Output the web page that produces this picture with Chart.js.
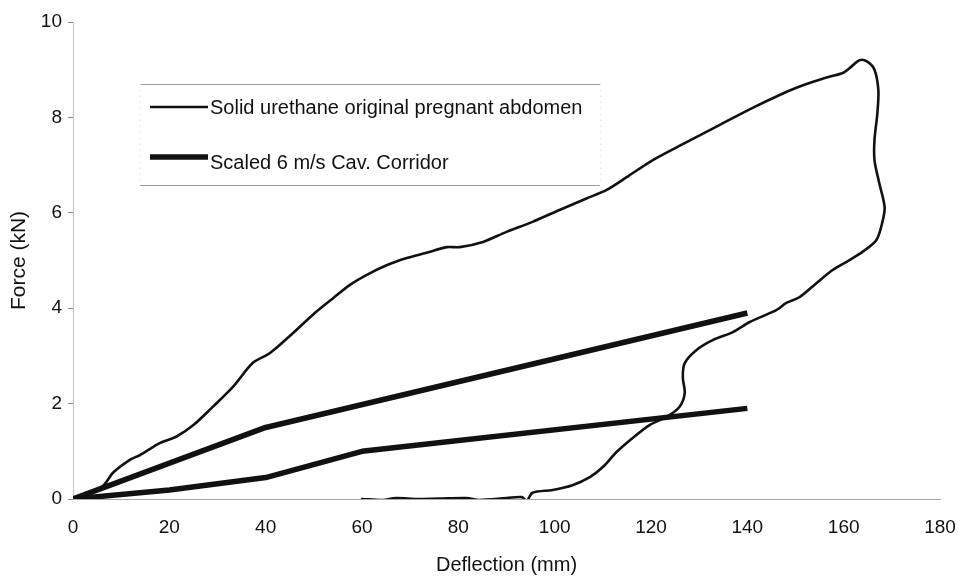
<!DOCTYPE html>
<html>
<head>
<meta charset="utf-8">
<script src="https://cdn.jsdelivr.net/npm/chart.js@4.4.1/dist/chart.umd.min.js"></script>
<style>
  html, body { margin: 0; padding: 0; background: #ffffff; }
  #wrap { width: 962px; height: 586px; }
</style>
</head>
<body>
<div id="wrap"><canvas id="chart" width="962" height="586"></canvas></div>
<script>
// Force–deflection response of the solid urethane abdomen (loading then unloading loop)
const abdomenDeflection = [
  0, 3, 6.2, 8.3, 11.8, 13.9, 18, 21.5, 25, 29, 33.2, 37.3, 40.9, 45.7, 50.2,
  54, 57.5, 61, 65.1, 69.3, 73.4, 77.6, 80.3, 85.1, 90, 95.4, 101, 106.6, 110.8,
  115.3, 120.3, 127.4, 134.2, 141.1, 146.7, 150.2, 153.5, 157, 159.8, 161.2,
  163.3, 164.9, 166.4, 167.2, 167, 166.4, 166.4, 167.4, 168.5, 168, 166.8,
  163.9, 161.2, 157.7, 154.4, 150.8, 148.1, 146, 140.5, 137, 132.8, 129.4,
  127, 126.6, 127, 125.9, 123.2, 119.7, 116.2, 112.9, 110, 107.3, 103.7, 99.6,
  95.4, 94.2, 93.2, 90, 84.4, 81.7, 76, 71.4, 67, 64.3, 60
];
const abdomenForce = [
  0, 0.12, 0.27, 0.55, 0.82, 0.92, 1.17, 1.31, 1.55, 1.93, 2.35, 2.85, 3.06, 3.48, 3.9,
  4.21, 4.49, 4.7, 4.9, 5.05, 5.16, 5.28, 5.28, 5.39, 5.6, 5.81, 6.06, 6.3, 6.48,
  6.77, 7.1, 7.48, 7.84, 8.2, 8.47, 8.62, 8.74, 8.85, 8.93, 9.03,
  9.2, 9.17, 9.0, 8.57, 8.09, 7.53, 7.1, 6.62, 6.12, 5.79, 5.43,
  5.18, 5.01, 4.8, 4.53, 4.23, 4.11, 3.96, 3.71, 3.5, 3.33, 3.12,
  2.85, 2.56, 2.22, 1.93, 1.72, 1.55, 1.28, 0.99, 0.67, 0.46, 0.29, 0.19,
  0.13, -0.04, 0.04, 0.02, -0.02, 0.02, 0.01, 0.0, 0.02, -0.02, 0.0
];

// Scaled 6 m/s cadaver corridor, upper and lower bounds
const corridorUpperDeflection = [0, 40, 140];
const corridorUpperForce = [0, 1.5, 3.9];
const corridorLowerDeflection = [0, 20, 40, 60, 140];
const corridorLowerForce = [0, 0.19, 0.45, 1.0, 1.9];

// Axis ticks
const deflectionTicks = [0, 20, 40, 60, 80, 100, 120, 140, 160, 180];
const forceTicks = [0, 2, 4, 6, 8, 10];

const seriesLabels = ['Solid urethane original pregnant abdomen', 'Scaled 6 m/s Cav. Corridor'];

const toPoints = (xs, ys) => xs.map((x, i) => ({ x: x, y: ys[i] }));
const INK = '#111111';
const FONT = "'Liberation Sans', Arial, Helvetica, sans-serif";

// Boxed legend with rules above and below, drawn inside the plot area
const boxedLegend = {
  id: 'boxedLegend',
  afterDraw(chart) {
    const ctx = chart.ctx;
    const left = 140, right = 600, top = 84, bottom = 185;
    ctx.save();
    ctx.strokeStyle = '#9a9a9a';
    ctx.lineWidth = 1;
    ctx.beginPath();
    ctx.moveTo(left, top + 0.5); ctx.lineTo(right, top + 0.5);
    ctx.moveTo(left, bottom + 0.5); ctx.lineTo(right, bottom + 0.5);
    ctx.stroke();
    ctx.strokeStyle = '#dddddd';
    ctx.setLineDash([1, 5]);
    ctx.beginPath();
    ctx.moveTo(left + 0.5, top); ctx.lineTo(left + 0.5, bottom);
    ctx.moveTo(right + 0.5, top); ctx.lineTo(right + 0.5, bottom);
    ctx.stroke();
    ctx.setLineDash([]);

    const items = [
      { label: chart.data.datasets[0].label, width: chart.data.datasets[0].borderWidth, lineY: 107, baseY: 114 },
      { label: chart.data.datasets[1].label, width: chart.data.datasets[1].borderWidth, lineY: 157, baseY: 169 }
    ];
    ctx.fillStyle = INK;
    ctx.strokeStyle = INK;
    ctx.font = '20px ' + FONT;
    ctx.textBaseline = 'alphabetic';
    ctx.textAlign = 'left';
    items.forEach(it => {
      ctx.lineWidth = it.width;
      ctx.beginPath();
      ctx.moveTo(150, it.lineY);
      ctx.lineTo(208, it.lineY);
      ctx.stroke();
      ctx.fillText(it.label, 210, it.baseY);
    });
    ctx.restore();
  }
};

new Chart(document.getElementById('chart'), {
  type: 'scatter',
  data: {
    datasets: [
      {
        label: seriesLabels[0],
        data: toPoints(abdomenDeflection, abdomenForce),
        showLine: true,
        borderColor: INK,
        borderWidth: 2.6,
        pointRadius: 0,
        tension: 0.3,
        borderJoinStyle: 'round',
        borderCapStyle: 'round'
      },
      {
        label: seriesLabels[1],
        data: toPoints(corridorUpperDeflection, corridorUpperForce),
        showLine: true,
        borderColor: INK,
        borderWidth: 5.5,
        pointRadius: 0,
        tension: 0,
        borderJoinStyle: 'round'
      },
      {
        label: seriesLabels[1],
        data: toPoints(corridorLowerDeflection, corridorLowerForce),
        showLine: true,
        borderColor: INK,
        borderWidth: 5.5,
        pointRadius: 0,
        tension: 0,
        borderJoinStyle: 'round'
      }
    ]
  },
  options: {
    responsive: false,
    animation: false,
    devicePixelRatio: 1,
    layout: { padding: { left: 0, top: 22, right: 22, bottom: 0 } },
    plugins: {
      legend: { display: false },
      tooltip: { enabled: false }
    },
    scales: {
      x: {
        type: 'linear',
        min: 0,
        max: 180,
        afterBuildTicks: scale => { scale.ticks = deflectionTicks.map(v => ({ value: v })); },
        afterFit: scale => {
          scale.height = 87;
          scale.paddingLeft = 0;
          scale.paddingRight = 0;
        },
        grid: { display: true, drawOnChartArea: false, drawTicks: false },
        border: { display: true, color: '#a8a8a8', width: 1 },
        ticks: {
          color: INK,
          font: { family: FONT, size: 19 },
          padding: 17,
          maxRotation: 0
        },
        title: {
          display: true,
          text: 'Deflection (mm)',
          color: INK,
          font: { family: FONT, size: 20 },
          padding: { top: 0, bottom: 9 }
        }
      },
      y: {
        type: 'linear',
        min: 0,
        max: 10,
        afterBuildTicks: scale => { scale.ticks = forceTicks.map(v => ({ value: v })); },
        afterFit: scale => { scale.width = 73; },
        grid: { display: true, drawOnChartArea: false, drawTicks: true, tickLength: 5, color: '#8a8a8a' },
        border: { display: true, color: '#c4c4c4', width: 1, dash: [1, 3] },
        ticks: {
          color: INK,
          font: { family: FONT, size: 19 },
          padding: 6
        },
        title: {
          display: true,
          text: 'Force (kN)',
          color: INK,
          font: { family: FONT, size: 21 },
          padding: { top: 7, bottom: 0 }
        }
      }
    }
  },
  plugins: [boxedLegend]
});
</script>
</body>
</html>
